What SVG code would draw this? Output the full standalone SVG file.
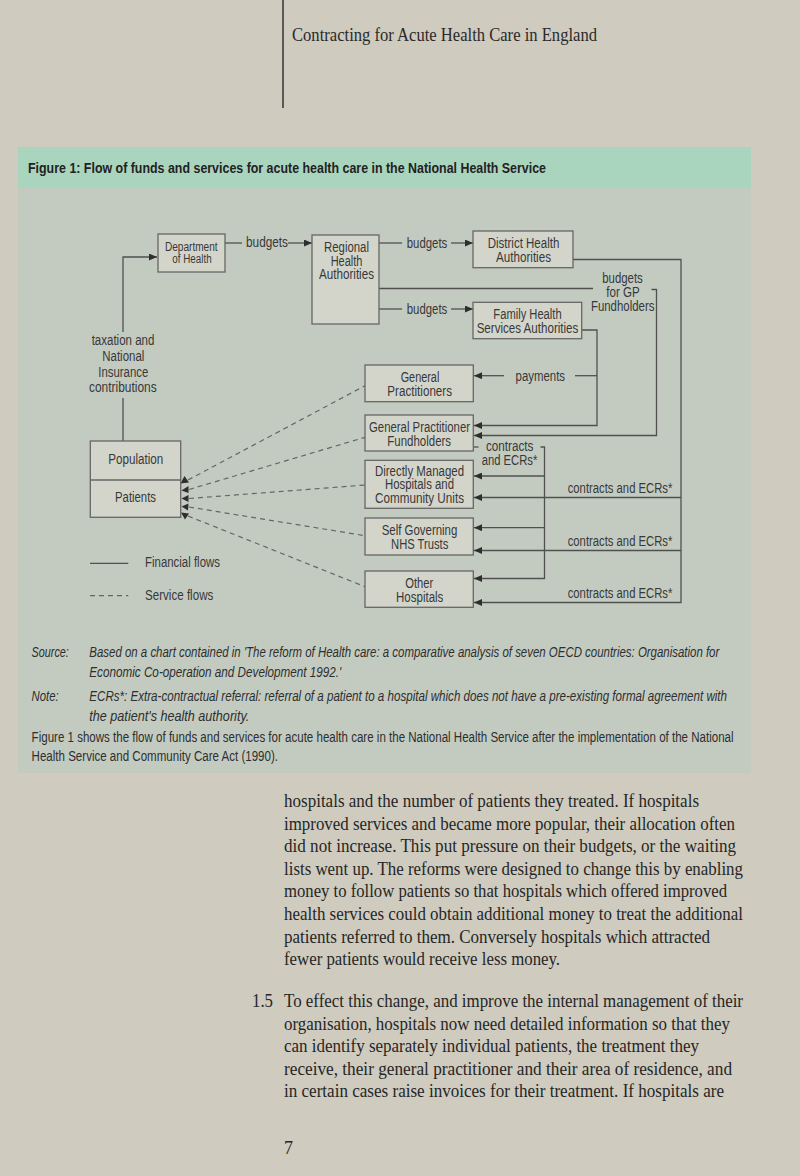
<svg xmlns="http://www.w3.org/2000/svg" width="800" height="1176" viewBox="0 0 800 1176">
<defs>
<style>
.t{font-family:"Liberation Sans",Arial,sans-serif;font-size:14px;fill:#383838}
.ts{font-family:"Liberation Sans",Arial,sans-serif;font-size:12px;fill:#383838}
.ti{font-family:"Liberation Sans",Arial,sans-serif;font-size:14px;fill:#2e2e2e;font-style:italic}
.tn{font-family:"Liberation Sans",Arial,sans-serif;font-size:14px;fill:#2e2e2e}
.body{font-family:"Liberation Serif","Times New Roman",serif;font-size:18px;fill:#262626}
.box{fill:#d3d5cb;stroke:#666;stroke-width:1.3}
.ln{stroke:#505050;stroke-width:1.3;fill:none}
.ds{stroke:#666;stroke-width:1.2;stroke-dasharray:5 4;fill:none}
.ah{fill:#2e2e2e}
</style>
<marker id="arr" markerWidth="8" markerHeight="7" refX="8" refY="3.5" orient="auto" markerUnits="userSpaceOnUse"><path d="M0,0 L8,3.5 L0,7 z" fill="#2e2e2e"/></marker>
</defs>
<rect x="0" y="0" width="800" height="1176" fill="#cfcbbe"/>
<line x1="283" y1="0" x2="283" y2="108" stroke="#333" stroke-width="1.5"/>
<text x="292" y="41" font-family="'Liberation Serif','Times New Roman',serif" font-size="19" fill="#2a2a2a" textLength="305" lengthAdjust="spacingAndGlyphs">Contracting for Acute Health Care in England</text>
<rect x="18" y="187" width="733" height="586" fill="#c3cbc1"/>
<rect x="18" y="147" width="733" height="41" fill="#a9d5bf"/>
<text x="28" y="173" font-family="'Liberation Sans',Arial,sans-serif" font-size="15" font-weight="bold" fill="#222" textLength="518" lengthAdjust="spacingAndGlyphs">Figure 1: Flow of funds and services for acute health care in the National Health Service</text>

<g id="connectors">
<path class="ln" d="M123,332 V257 H157" marker-end="url(#arr)"/>
<path class="ln" d="M123,398 V441"/>
<path class="ln" d="M225,243 H242"/>
<path class="ln" d="M288,243 H312" marker-end="url(#arr)"/>
<path class="ln" d="M379,243 H402"/>
<path class="ln" d="M451,243 H473" marker-end="url(#arr)"/>
<path class="ln" d="M379,288.5 H593"/>
<path class="ln" d="M651.5,289.5 H656.5 V435.5 H474" marker-end="url(#arr)"/>
<path class="ln" d="M379,309 H402"/>
<path class="ln" d="M451,309 H473" marker-end="url(#arr)"/>
<path class="ln" d="M573,259.5 H681 V602.5 H474" marker-end="url(#arr)"/>
<path class="ln" d="M681,497.5 H474" marker-end="url(#arr)"/>
<path class="ln" d="M681,550.5 H474" marker-end="url(#arr)"/>
<path class="ln" d="M582,330 H597 V425.5 H474" marker-end="url(#arr)"/>
<path class="ln" d="M597,375.7 H575"/>
<path class="ln" d="M504,375.7 H474" marker-end="url(#arr)"/>
<path class="ln" d="M473,447 H478.5"/>
<path class="ln" d="M540.5,447 H544.5 V578.5 H474" marker-end="url(#arr)"/>
<path class="ln" d="M544.5,476 H474" marker-end="url(#arr)"/>
<path class="ln" d="M544.5,527.7 H474" marker-end="url(#arr)"/>
<path class="ds" d="M188,480 L365,385.7"/>
<path class="ds" d="M189,489.5 L365,437.3"/>
<path class="ds" d="M189,498.5 L365,485"/>
<path class="ds" d="M189,507 L365,535.7"/>
<path class="ds" d="M188,516 L365,586.7"/>
<polygon class="ah" points="184.5,476 180.5,483.5 189,482.5"/>
<polygon class="ah" points="181.5,490.5 188.5,486 188.5,493"/>
<polygon class="ah" points="181.5,498.5 188.5,495 188.5,502"/>
<polygon class="ah" points="181.5,506.5 188.5,503.5 188,510.5"/>
<polygon class="ah" points="185,519.5 181,512.5 189,513.5"/>
<text class="t" x="267" y="247" text-anchor="middle" textLength="42" lengthAdjust="spacingAndGlyphs">budgets</text>
<text class="t" x="427" y="247.5" text-anchor="middle" textLength="40.5" lengthAdjust="spacingAndGlyphs">budgets</text>
<text class="t" x="427" y="313.5" text-anchor="middle" textLength="40.5" lengthAdjust="spacingAndGlyphs">budgets</text>
<text class="t" x="622.5" y="283" text-anchor="middle" textLength="40.5" lengthAdjust="spacingAndGlyphs">budgets</text>
<text class="t" x="623" y="297" text-anchor="middle" textLength="33.5" lengthAdjust="spacingAndGlyphs">for GP</text>
<text class="t" x="622.7" y="311" text-anchor="middle" textLength="63.5" lengthAdjust="spacingAndGlyphs">Fundholders</text>
<text class="t" x="540.3" y="380.5" text-anchor="middle" textLength="49.5" lengthAdjust="spacingAndGlyphs">payments</text>
<text class="t" x="509.7" y="451" text-anchor="middle" textLength="47.5" lengthAdjust="spacingAndGlyphs">contracts</text>
<text class="t" x="509.5" y="465" text-anchor="middle" textLength="55.7" lengthAdjust="spacingAndGlyphs">and ECRs*</text>
<text class="t" x="567.7" y="493" textLength="104.7" lengthAdjust="spacingAndGlyphs">contracts and ECRs*</text>
<text class="t" x="567.7" y="546" textLength="104.7" lengthAdjust="spacingAndGlyphs">contracts and ECRs*</text>
<text class="t" x="567.7" y="598" textLength="104.7" lengthAdjust="spacingAndGlyphs">contracts and ECRs*</text>
<text class="t" x="123" y="345" text-anchor="middle" textLength="62.7" lengthAdjust="spacingAndGlyphs">taxation and</text>
<text class="t" x="123.3" y="361" text-anchor="middle" textLength="42" lengthAdjust="spacingAndGlyphs">National</text>
<text class="t" x="123.3" y="377" text-anchor="middle" textLength="50" lengthAdjust="spacingAndGlyphs">Insurance</text>
<text class="t" x="122.8" y="392" text-anchor="middle" textLength="67.7" lengthAdjust="spacingAndGlyphs">contributions</text>
</g>

<g id="legend">
<line class="ln" x1="90" y1="563.3" x2="128.3" y2="563.3"/>
<text class="t" x="145" y="567.3" textLength="75" lengthAdjust="spacingAndGlyphs">Financial flows</text>
<line class="ds" x1="90" y1="595.7" x2="128.3" y2="595.7"/>
<text class="t" x="145" y="600" textLength="68.3" lengthAdjust="spacingAndGlyphs">Service flows</text>
</g>

<g id="node-doh">
<rect class="box" x="158" y="234" width="67" height="38"/>
<text class="ts" x="191.3" y="251" text-anchor="middle" textLength="52.7" lengthAdjust="spacingAndGlyphs">Department</text>
<text class="ts" x="192" y="263" text-anchor="middle" textLength="39.3" lengthAdjust="spacingAndGlyphs">of Health</text>
</g>
<g id="node-rha">
<rect class="box" x="312" y="235" width="67" height="89"/>
<text class="t" x="346.5" y="251.7" text-anchor="middle" textLength="45" lengthAdjust="spacingAndGlyphs">Regional</text>
<text class="t" x="346.5" y="266" text-anchor="middle" textLength="31.7" lengthAdjust="spacingAndGlyphs">Health</text>
<text class="t" x="346.5" y="279.3" text-anchor="middle" textLength="55" lengthAdjust="spacingAndGlyphs">Authorities</text>
</g>
<g id="node-dha">
<rect class="box" x="473" y="231" width="100" height="36.7"/>
<text class="t" x="523.5" y="248.3" text-anchor="middle" textLength="71.7" lengthAdjust="spacingAndGlyphs">District Health</text>
<text class="t" x="523.5" y="261.7" text-anchor="middle" textLength="55" lengthAdjust="spacingAndGlyphs">Authorities</text>
</g>
<g id="node-fhsa">
<rect class="box" x="473" y="302.3" width="108.7" height="36.4"/>
<text class="t" x="527.5" y="319" text-anchor="middle" textLength="68.3" lengthAdjust="spacingAndGlyphs">Family Health</text>
<text class="t" x="527.5" y="332.7" text-anchor="middle" textLength="101.7" lengthAdjust="spacingAndGlyphs">Services Authorities</text>
</g>
<g id="node-gp">
<rect class="box" x="365" y="365" width="108.3" height="36.7"/>
<text class="t" x="420" y="381.7" text-anchor="middle" textLength="38.7" lengthAdjust="spacingAndGlyphs">General</text>
<text class="t" x="419.7" y="395.7" text-anchor="middle" textLength="64.7" lengthAdjust="spacingAndGlyphs">Practitioners</text>
</g>
<g id="node-gpf">
<rect class="box" x="365" y="415" width="108.3" height="36"/>
<text class="t" x="419.5" y="431.7" text-anchor="middle" textLength="101" lengthAdjust="spacingAndGlyphs">General Practitioner</text>
<text class="t" x="419.2" y="445.7" text-anchor="middle" textLength="63.7" lengthAdjust="spacingAndGlyphs">Fundholders</text>
</g>
<g id="node-dmh">
<rect class="box" x="365" y="460.3" width="108.3" height="48"/>
<text class="t" x="419.5" y="475.7" text-anchor="middle" textLength="89" lengthAdjust="spacingAndGlyphs">Directly Managed</text>
<text class="t" x="419.5" y="489" text-anchor="middle" textLength="69" lengthAdjust="spacingAndGlyphs">Hospitals and</text>
<text class="t" x="419.5" y="503.3" text-anchor="middle" textLength="89" lengthAdjust="spacingAndGlyphs">Community Units</text>
</g>
<g id="node-trusts">
<rect class="box" x="365" y="518" width="108.3" height="37"/>
<text class="t" x="419.5" y="535" text-anchor="middle" textLength="75.7" lengthAdjust="spacingAndGlyphs">Self Governing</text>
<text class="t" x="419.7" y="549" text-anchor="middle" textLength="57.3" lengthAdjust="spacingAndGlyphs">NHS Trusts</text>
</g>
<g id="node-other">
<rect class="box" x="365" y="571" width="108.3" height="36.3"/>
<text class="t" x="419.3" y="587.7" text-anchor="middle" textLength="28" lengthAdjust="spacingAndGlyphs">Other</text>
<text class="t" x="419.7" y="601.7" text-anchor="middle" textLength="47.3" lengthAdjust="spacingAndGlyphs">Hospitals</text>
</g>
<g id="node-population">
<rect class="box" x="90.3" y="441" width="90.4" height="76.3"/>
<line x1="90.3" y1="480" x2="180.7" y2="480" stroke="#666" stroke-width="1.3"/>
<text class="t" x="135.8" y="464" text-anchor="middle" textLength="55" lengthAdjust="spacingAndGlyphs">Population</text>
<text class="t" x="135.5" y="501.7" text-anchor="middle" textLength="41" lengthAdjust="spacingAndGlyphs">Patients</text>
</g>

<g id="notes">
<text class="ti" transform="translate(31.6,657) scale(0.75,1)" textLength="49.7" lengthAdjust="spacingAndGlyphs">Source:</text>
<text class="ti" transform="translate(89.3,657) scale(0.75,1)" textLength="840" lengthAdjust="spacingAndGlyphs">Based on a chart contained in 'The reform of Health care: a comparative analysis of seven OECD countries: Organisation for</text>
<text class="ti" transform="translate(89.3,677) scale(0.75,1)" textLength="336" lengthAdjust="spacingAndGlyphs">Economic Co-operation and Development 1992.'</text>
<text class="ti" transform="translate(31.6,701) scale(0.75,1)" textLength="36.1" lengthAdjust="spacingAndGlyphs">Note:</text>
<text class="ti" transform="translate(89.3,701) scale(0.75,1)" textLength="850.3" lengthAdjust="spacingAndGlyphs">ECRs*: Extra-contractual referral: referral of a patient to a hospital which does not have a pre-existing formal agreement with</text>
<text class="ti" transform="translate(89.3,721) scale(0.75,1)" textLength="213.3" lengthAdjust="spacingAndGlyphs">the patient's health authority.</text>
<text class="tn" transform="translate(31.6,742) scale(0.75,1)" textLength="936" lengthAdjust="spacingAndGlyphs">Figure 1 shows the flow of funds and services for acute health care in the National Health Service after the implementation of the National</text>
<text class="tn" transform="translate(31.6,761) scale(0.75,1)" textLength="328.5" lengthAdjust="spacingAndGlyphs">Health Service and Community Care Act (1990).</text>
</g>

<g id="body-text">
<text class="body" x="284" y="807" textLength="415" lengthAdjust="spacingAndGlyphs">hospitals and the number of patients they treated. If hospitals</text>
<text class="body" x="284" y="829.6" textLength="451" lengthAdjust="spacingAndGlyphs">improved services and became more popular, their allocation often</text>
<text class="body" x="284" y="852.2" textLength="452" lengthAdjust="spacingAndGlyphs">did not increase. This put pressure on their budgets, or the waiting</text>
<text class="body" x="284" y="874.8" textLength="459" lengthAdjust="spacingAndGlyphs">lists went up. The reforms were designed to change this by enabling</text>
<text class="body" x="284" y="897.4" textLength="443" lengthAdjust="spacingAndGlyphs">money to follow patients so that hospitals which offered improved</text>
<text class="body" x="284" y="920" textLength="459" lengthAdjust="spacingAndGlyphs">health services could obtain additional money to treat the additional</text>
<text class="body" x="284" y="942.6" textLength="426" lengthAdjust="spacingAndGlyphs">patients referred to them. Conversely hospitals which attracted</text>
<text class="body" x="284" y="965.2" textLength="276" lengthAdjust="spacingAndGlyphs">fewer patients would receive less money.</text>
<text class="body" x="252" y="1007" textLength="21" lengthAdjust="spacingAndGlyphs">1.5</text>
<text class="body" x="284" y="1007" textLength="459" lengthAdjust="spacingAndGlyphs">To effect this change, and improve the internal management of their</text>
<text class="body" x="284" y="1029.5" textLength="446" lengthAdjust="spacingAndGlyphs">organisation, hospitals now need detailed information so that they</text>
<text class="body" x="284" y="1052" textLength="415" lengthAdjust="spacingAndGlyphs">can identify separately individual patients, the treatment they</text>
<text class="body" x="284" y="1074.5" textLength="448" lengthAdjust="spacingAndGlyphs">receive, their general practitioner and their area of residence, and</text>
<text class="body" x="284" y="1097" textLength="440" lengthAdjust="spacingAndGlyphs">in certain cases raise invoices for their treatment. If hospitals are</text>
<text class="body" x="284" y="1154">7</text>
</g>
</svg>
